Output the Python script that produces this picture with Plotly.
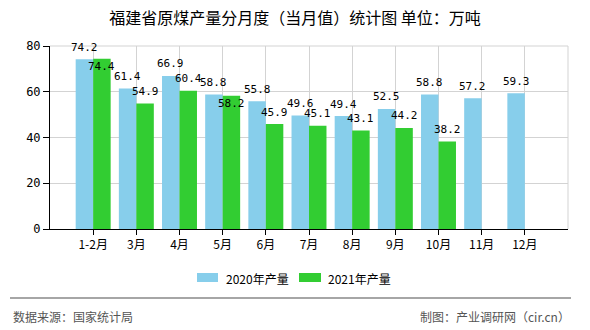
import plotly.graph_objects as go

months = ["1-2月", "3月", "4月", "5月", "6月", "7月", "8月", "9月", "10月", "11月", "12月"]
y2020 = [74.2, 61.4, 66.9, 58.8, 55.8, 49.6, 49.4, 52.5, 58.8, 57.2, 59.3]
y2021 = [74.4, 54.9, 60.4, 58.2, 45.9, 45.1, 43.1, 44.2, 38.2, None, None]
y_ticks = [0, 20, 40, 60, 80]
series_names = ["2020年产量", "2021年产量"]
series_colors = ["#87CEEB", "#32CD32"]

title = "福建省原煤产量分月度（当月值）统计图 单位：万吨"
source = "数据来源：国家统计局"
maker = "制图：产业调研网（cir.cn）"

cjk = "Noto Sans CJK SC"
mono = "DejaVu Sans Mono"

# plot area in pixels
L, R, T, B = 50, 568, 46, 229
W, H = R - L, B - T


def px(xp):
    return (xp - L) / W


def py(yp):
    return (B - yp) / H


fig = go.Figure()
for name, vals, col in zip(series_names, [y2020, y2021], series_colors):
    fig.add_trace(go.Bar(
        x=months, y=vals, name=name, marker=dict(color=col, line=dict(width=0)),
        showlegend=False, hoverinfo="x+y",
    ))

fig.update_layout(
    width=590, height=330,
    margin=dict(l=L, r=590 - R, t=T, b=330 - B),
    paper_bgcolor="white", plot_bgcolor="white",
    barmode="group", bargap=0.19, bargroupgap=0,
    title=dict(text=title, x=0.5, xanchor="center", y=1 - 18 / 330, yanchor="middle",
               font=dict(family=cjk, size=16, color="#000")),
    font=dict(family=cjk, size=12, color="#000"),
)
fig.update_xaxes(
    type="category", range=[-1, 11], showgrid=True, gridcolor="#d3d3d3",
    showline=True, linecolor="#000", linewidth=1,
    ticks="outside", ticklen=5, tickcolor="#000",
    tickfont=dict(family=cjk, size=12, color="#000"),
)
fig.update_yaxes(
    range=[0, 80], tickvals=y_ticks, showgrid=True, gridcolor="#d3d3d3",
    showline=True, linecolor="#000", linewidth=1,
    ticks="outside", ticklen=6, tickcolor="#000",
    tickfont=dict(family=mono, size=12, color="#000"), zeroline=False,
)

# value labels
half = 0.81 * (W / 12) / 4
for i, m in enumerate(months):
    a, b = y2020[i], y2021[i]
    if a is not None:
        fig.add_annotation(x=m, y=a, text=str(a), showarrow=False, xshift=-half, yshift=12,
                           font=dict(family=mono, size=11, color="#000"))
    if b is not None:
        shift = 12
        if a is not None and abs(a - b) < 2:
            shift = -8
        fig.add_annotation(x=m, y=b, text=str(b), showarrow=False, xshift=half, yshift=shift,
                           font=dict(family=mono, size=11, color="#000"))

# top and right border of plot area
fig.add_shape(type="line", xref="paper", yref="paper", x0=0, x1=1, y0=1, y1=1,
              line=dict(color="#d3d3d3", width=1))
fig.add_shape(type="line", xref="paper", yref="paper", x0=1, x1=1, y0=0, y1=1,
              line=dict(color="#d3d3d3", width=1))

# legend
legend_x = [(197, 218, 224), (299, 321, 326)]
for (sx0, sx1, tx), name, col in zip(legend_x, series_names, series_colors):
    fig.add_shape(type="rect", xref="paper", yref="paper", x0=px(sx0), x1=px(sx1),
                  y0=py(282), y1=py(273), fillcolor=col, line=dict(width=0))
    fig.add_annotation(text=name, xref="paper", yref="paper", x=px(tx), y=py(278),
                       xanchor="left", yanchor="middle", showarrow=False,
                       font=dict(family=cjk, size=12, color="#000"))

# footer
fig.add_shape(type="line", xref="paper", yref="paper", x0=px(10), x1=px(571),
              y0=py(298), y1=py(298), line=dict(color="#888", width=1.5))
fig.add_annotation(text=source, xref="paper", yref="paper", x=px(11), y=py(316),
                   xanchor="left", yanchor="middle", showarrow=False,
                   font=dict(family=cjk, size=12, color="#555"))
fig.add_annotation(text=maker, xref="paper", yref="paper", x=px(572), y=py(316),
                   xanchor="right", yanchor="middle", showarrow=False,
                   font=dict(family=cjk, size=12, color="#555"))

fig.write_html("out.html")
